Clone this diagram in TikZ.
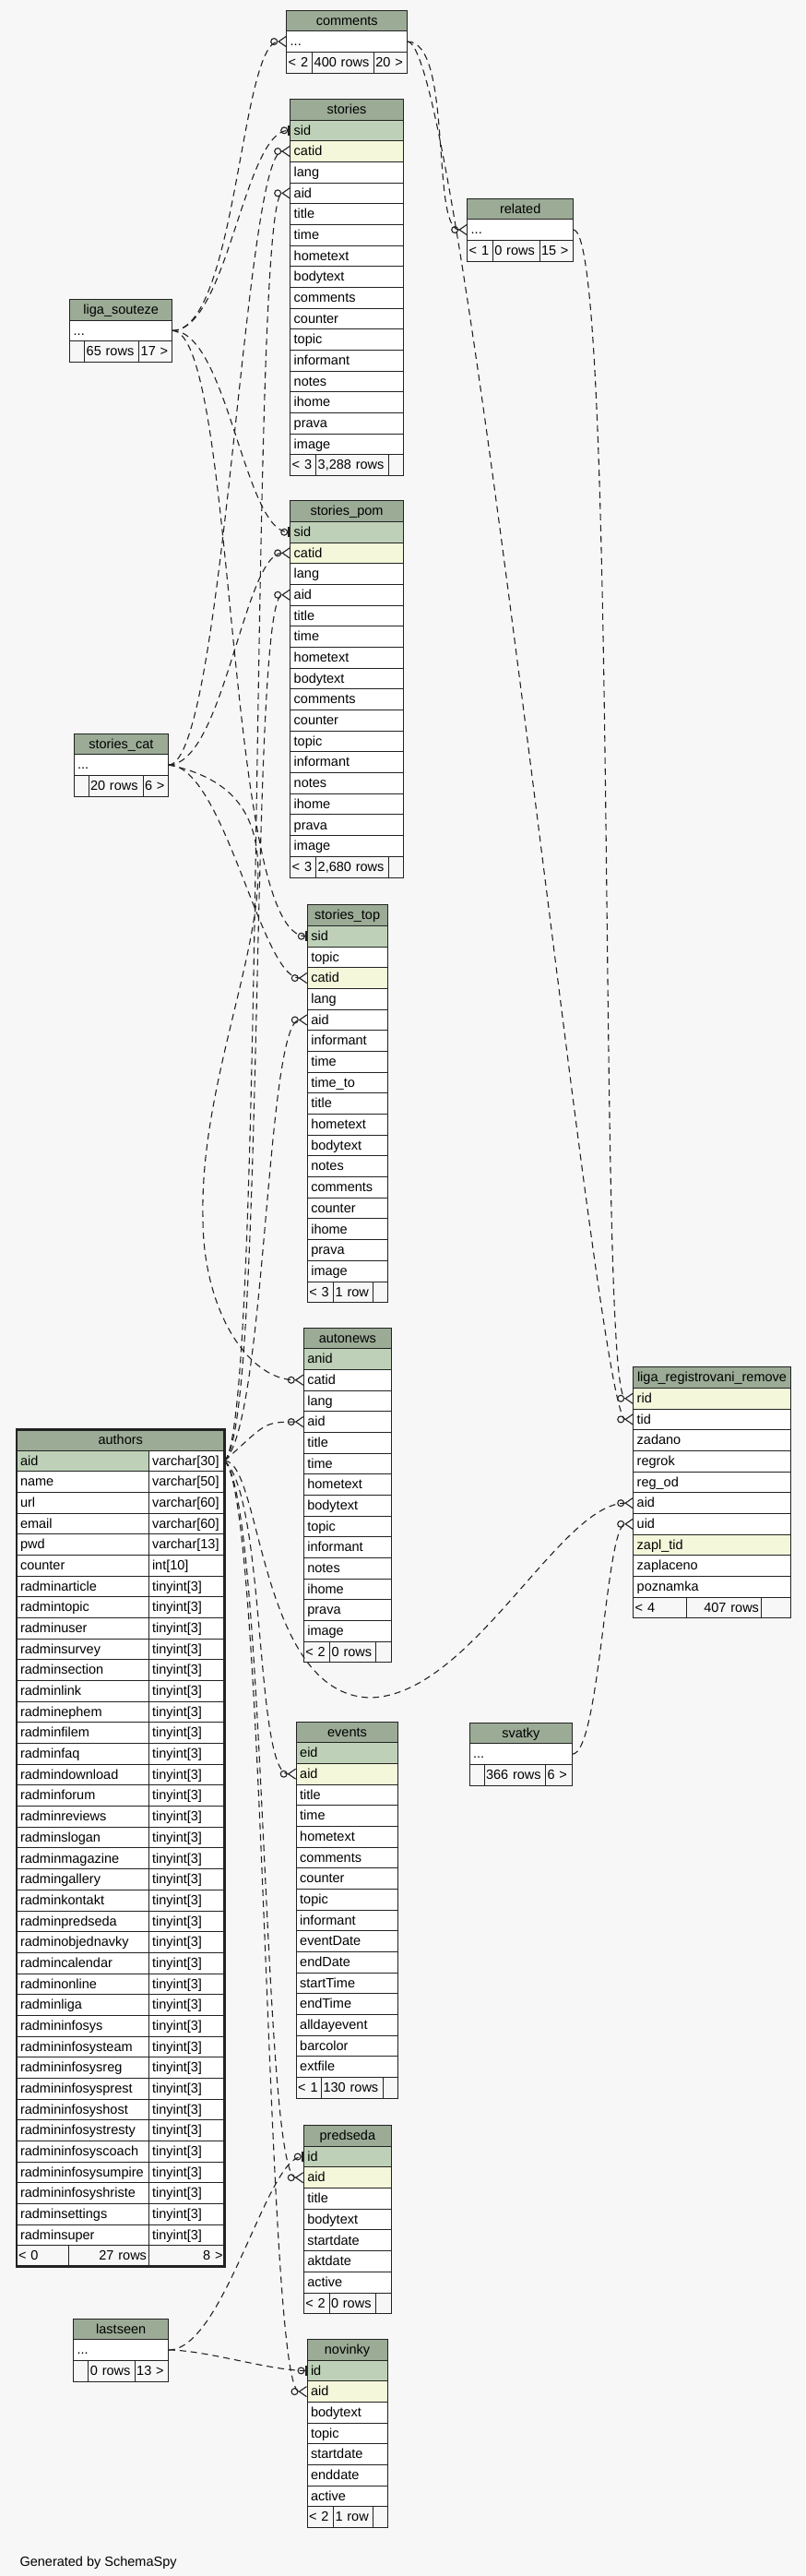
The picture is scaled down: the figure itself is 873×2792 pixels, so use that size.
\documentclass[tikz,border=0pt]{standalone}
\usepackage{fontspec}
\setmainfont{Liberation Sans}
\usetikzlibrary{arrows.meta}
\newcommand\rowh{22.68}
\newcommand\more{...}
\newcommand\erdtable[6]{%
  \pgfmathsetmacro\tblw{#4-#3}%
  \pgfmathsetmacro\tbltw{#4-#3-8}%
  \node[hdr,minimum width=\tblw pt] (#1) at (#3,#5) {#2};
  \foreach \colname/\colsty [count=\i] in {#6}
    \node[\colsty,text width=\tbltw pt] (#1-\i) at (#3,#5+\i*\rowh) {\colname};
}
\newcommand\erdfoot[8]{%
  \pgfmathsetmacro\fwa{#3-4}\pgfmathsetmacro\fwb{#4-4}\pgfmathsetmacro\fwc{#5-4}%
  \node[foot,text width=\fwa pt] (#1-f1) at (#1-#2.south west) {#6};
  \node[foot,text width=\fwb pt] (#1-f2) at (#1-f1.north east) {#7};
  \node[foot,text width=\fwc pt] (#1-f3) at (#1-f2.north east) {#8};
}
\begin{document}
\begin{tikzpicture}[x=1pt,y=-1pt,font=\fontsize{14.5}{16}\selectfont,
  box/.style={draw=ink,line width=0.9pt,anchor=north west,outer sep=0pt,minimum height=22.68pt,inner ysep=0pt,text height=11pt,text depth=1.5pt},
  hdr/.style={box,fill=hdrc,inner xsep=0pt},
  col/.style={box,fill=white,inner xsep=4pt,align=left},
  pk/.style={col,fill=pkc},
  fk/.style={col,fill=fkc},
  foot/.style={box,fill=bg,inner xsep=2pt,align=left},
  rel/.style={draw=ink,line width=1.1pt,dash pattern=on 7pt off 5pt},
  many/.style={rel,-{Circle[open,length=8pt,width=8pt] Straight Barb[reversed,length=8pt,width=11pt]}},
  one/.style={rel,-{Circle[open,length=8pt,width=8pt] Bar[width=11pt,line width=2.5pt]}}]
\definecolor{ink}{HTML}{222222}\definecolor{bg}{HTML}{F7F7F7}
\definecolor{hdrc}{HTML}{9BAB96}\definecolor{pkc}{HTML}{BED1B8}
\definecolor{fkc}{HTML}{F4F7DA}
\useasboundingbox (0,0) rectangle (873,2792);
\fill[bg] (0,0) rectangle (873,2792);
\erdtable{comments}{comments}{310.7}{441.7}{11}{\more/col}
\erdfoot{comments}{1}{28}{66.6}{36.4}{< 2}{400 rows}{20 >}
\erdtable{stories}{stories}{314.7}{437.3}{107.3}{sid/pk,catid/fk,lang/col,aid/col,title/col,time/col,hometext/col,bodytext/col,comments/col,counter/col,topic/col,informant/col,notes/col,ihome/col,prava/col,image/col}
\erdfoot{stories}{16}{28}{78.3}{16.3}{< 3}{3,288 rows}{}
\erdtable{related}{related}{506.7}{621.7}{215}{\more/col}
\erdfoot{related}{1}{27.6}{50.7}{36.7}{< 1}{0 rows}{15 >}
\erdtable{ligasouteze}{liga\_souteze}{75.7}{186.7}{324.3}{\more/col}
\erdfoot{ligasouteze}{1}{16}{59}{36}{}{65 rows}{17 >}
\erdtable{storiespom}{stories\_pom}{314.7}{437.3}{542.7}{sid/pk,catid/fk,lang/col,aid/col,title/col,time/col,hometext/col,bodytext/col,comments/col,counter/col,topic/col,informant/col,notes/col,ihome/col,prava/col,image/col}
\erdfoot{storiespom}{16}{28}{78.3}{16.3}{< 3}{2,680 rows}{}
\erdtable{storiescat}{stories\_cat}{80}{182.7}{795}{\more/col}
\erdfoot{storiescat}{1}{16}{59}{27.7}{}{20 rows}{6 >}
\erdtable{storiestop}{stories\_top}{333.3}{420}{980.7}{sid/pk,topic/col,catid/fk,lang/col,aid/col,informant/col,time/col,time\_to/col,title/col,hometext/col,bodytext/col,notes/col,comments/col,counter/col,ihome/col,prava/col,image/col}
\erdfoot{storiestop}{17}{28.4}{42.6}{15.7}{< 3}{1 row}{}
\erdtable{autonews}{autonews}{329.3}{424.3}{1439}{anid/pk,catid/col,lang/col,aid/col,title/col,time/col,hometext/col,bodytext/col,topic/col,informant/col,notes/col,ihome/col,prava/col,image/col}
\erdfoot{autonews}{14}{28.4}{50}{16.6}{< 2}{0 rows}{}
\erdtable{ligareg}{liga\_registrovani\_remove}{686.7}{857.3}{1481.7}{rid/fk,tid/col,zadano/col,regrok/col,reg\_od/col,aid/col,uid/col,zapl\_tid/fk,zaplaceno/col,poznamka/col}
\erdfoot{ligareg}{10}{57.3}{81}{32.3}{< 4}{\hfill 407 rows}{}
\erdtable{events}{events}{321.2}{431.8}{1866}{eid/pk,aid/fk,title/col,time/col,hometext/col,comments/col,counter/col,topic/col,informant/col,eventDate/col,endDate/col,startTime/col,endTime/col,alldayevent/col,barcolor/col,extfile/col}
\erdfoot{events}{16}{27.4}{67.3}{15.9}{< 1}{130 rows}{}
\erdtable{svatky}{svatky}{509.1}{620.5}{1867.2}{\more/col}
\erdfoot{svatky}{1}{15.9}{66.6}{28.9}{}{366 rows}{6 >}
\erdtable{predseda}{predseda}{329.3}{424.4}{2303.5}{id/pk,aid/fk,title/col,bodytext/col,startdate/col,aktdate/col,active/col}
\erdfoot{predseda}{7}{27.7}{50.8}{16.6}{< 2}{0 rows}{}
\erdtable{lastseen}{lastseen}{79.6}{182.8}{2513}{\more/col}
\erdfoot{lastseen}{1}{16.3}{50.3}{36.6}{}{0 rows}{13 >}
\erdtable{novinky}{novinky}{333}{420}{2535.4}{id/pk,aid/fk,bodytext/col,topic/col,startdate/col,enddate/col,active/col}
\erdfoot{novinky}{7}{28.5}{42.5}{16}{< 2}{1 row}{}
\node[hdr,minimum width=225.5pt] (authors) at (18,1549.3) {authors};
\node[pk,text width=135pt] (authors-1) at (18,1549.3+\rowh) {aid};
\node[col,text width=74.5pt] (authors-1-t) at (authors-1.north east) {varchar[30]};
\foreach \colname/\coltype [count=\i from 2] in {name/varchar[50],url/varchar[60],email/varchar[60],pwd/varchar[13],counter/int[10]}{
  \node[col,text width=135pt] (authors-\i) at (18,1549.3+\i*\rowh) {\colname};
  \node[col,text width=74.5pt] (authors-\i-t) at (authors-\i.north east) {\coltype};
}
\foreach \colname [count=\i from 7] in {radminarticle,radmintopic,radminuser,radminsurvey,radminsection,radminlink,radminephem,radminfilem,radminfaq,radmindownload,radminforum,radminreviews,radminslogan,radminmagazine,radmingallery,radminkontakt,radminpredseda,radminobjednavky,radmincalendar,radminonline,radminliga,radmininfosys,radmininfosysteam,radmininfosysreg,radmininfosysprest,radmininfosyshost,radmininfosystresty,radmininfosyscoach,radmininfosysumpire,radmininfosyshriste,radminsettings,radminsuper}{
  \node[col,text width=135pt] (authors-\i) at (18,1549.3+\i*\rowh) {\colname};
  \node[col,text width=74.5pt] (authors-\i-t) at (authors-\i.north east) {tinyint[3]};
}
\erdfoot{authors}{38}{56}{87}{82.5}{< 0}{\hfill 27 rows}{\hfill 8 >}
\draw[ink,line width=2.7pt] (authors.north west) rectangle (authors-f3.south east);
\node[anchor=base west] (credit) at (18,2781) {Generated by SchemaSpy};
\draw[many] (ligasouteze-1.east) .. controls +(70,0) and +(-50,0) .. (comments-1.west);
\draw[one] (ligasouteze-1.east) .. controls +(60,0) and +(-50,0) .. (stories-1.west);
\draw[one] (ligasouteze-1.east) .. controls +(60,0) and +(-50,0) .. (storiespom-1.west);
\draw[one] (ligasouteze-1.east) .. controls +(70,0) and +(-90,0) .. (storiestop-1.west);
\foreach \t in {stories-2,storiespom-2,storiestop-3}
  \draw[many] (storiescat-1.east) .. controls +(60,0) and +(-50,0) .. (\t.west);
\draw[many] (storiescat-1.east) .. controls (380,870) and (215,1100) .. (220,1320) .. controls (220,1420) and (269,1496) .. (autonews-2.west);
\foreach \t in {stories-4,storiespom-4,storiestop-5,autonews-4}
  \draw[many] (authors-1-t.east) .. controls +(45,-40) and +(-45,0) .. (\t.west);
\foreach \t in {events-2,predseda-2,novinky-2}
  \draw[many] (authors-1-t.east) .. controls +(45,40) and +(-45,0) .. (\t.west);
\draw[many] (authors-1-t.east) .. controls +(40,0) and +(-120,-5) .. (400,1840) .. controls +(110,0) and +(-80,0) .. (ligareg-6.west);
\draw[one] (lastseen-1.east) .. controls +(60,0) and +(-40,0) .. (predseda-1.west);
\draw[one] (lastseen-1.east) .. controls +(40,0) and +(-40,0) .. (novinky-1.west);
\draw[many] (comments-1.east) .. controls +(50,0) and +(-40,0) .. (related-1.west);
\draw[many] (comments-1.east) .. controls +(60,0) and +(-40,0) .. (ligareg-2.west);
\draw[many] (related-1.east) .. controls +(50,0) and +(-40,0) .. (ligareg-1.west);
\draw[many] (svatky-1.east) .. controls +(30,0) and +(-30,0) .. (ligareg-7.west);
\end{tikzpicture}
\end{document}
